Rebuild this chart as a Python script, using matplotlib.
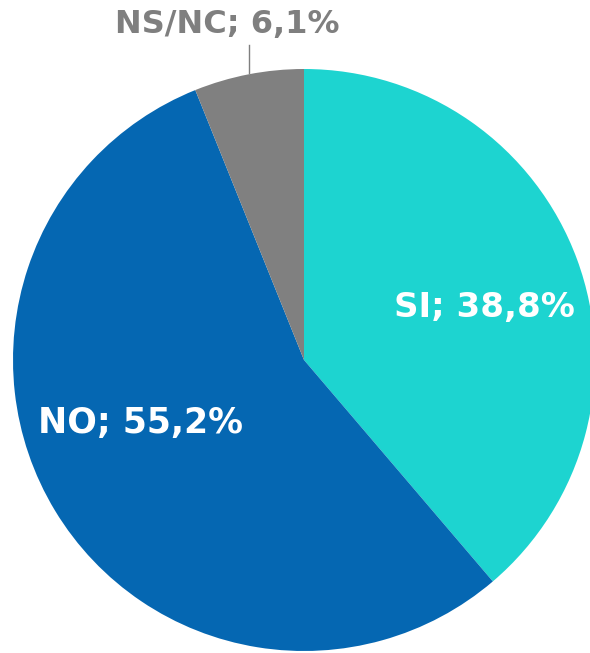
import matplotlib
matplotlib.use("Agg")
import matplotlib.pyplot as plt

# data
labels = ["SI", "NO", "NS/NC"]
values = [38.8, 55.2, 6.1]
colors = ["#1dd4d0", "#0567b2", "#808080"]

W, H = 590, 653
fig = plt.figure(figsize=(W / 100, H / 100), dpi=100)
ax = fig.add_axes([0, 0, 1, 1])

cx, cy, r = 304, H - 360, 291
ax.pie(values, colors=colors, startangle=90, counterclock=False,
       center=(cx, cy), radius=r, frame=True,
       wedgeprops=dict(linewidth=0))
ax.set_xlim(0, W)
ax.set_ylim(0, H)
ax.set_aspect("equal")
ax.axis("off")

def lab(i):
    return f"{labels[i]}; {str(values[i]).replace('.', ',')}%"

ax.text(484, H - 307, lab(0), color="white", ha="center", va="center",
        family="DejaVu Sans", weight="bold", fontsize=24.5)
ax.text(140, H - 423, lab(1), color="white", ha="center", va="center",
        family="DejaVu Sans", weight="bold", fontsize=25)
ax.text(227, H - 24, lab(2), color="#7f7f7f", ha="center", va="center",
        family="DejaVu Sans", weight="bold", fontsize=23)
ax.plot([249, 249], [H - 45, H - 73], color="#7f7f7f", lw=1)

fig.savefig("out.png", dpi=100)
